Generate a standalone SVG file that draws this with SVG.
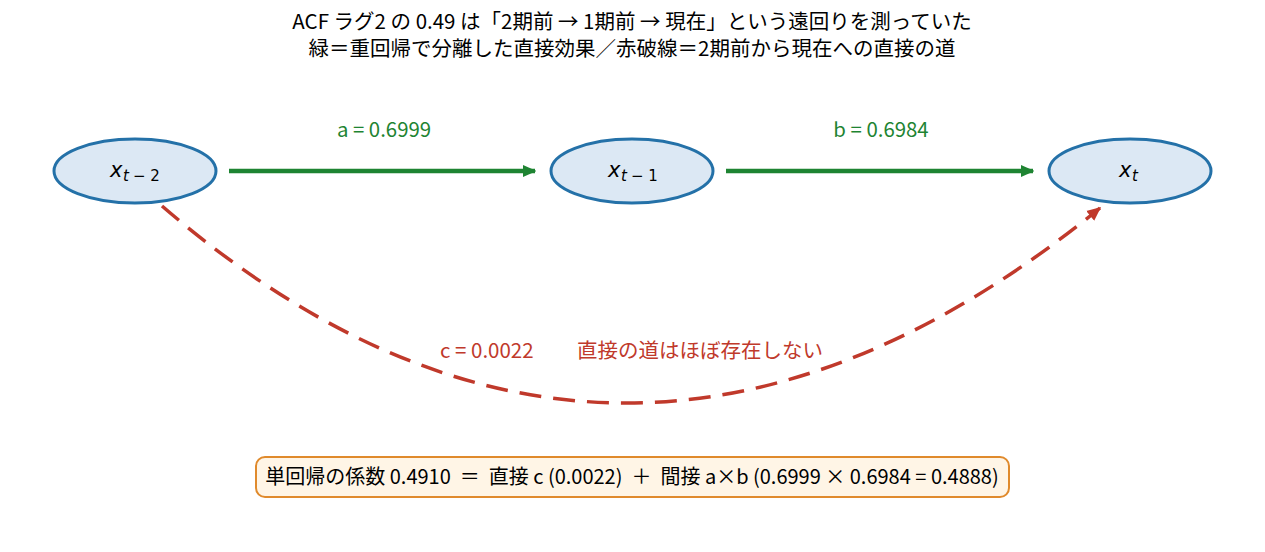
<svg xmlns="http://www.w3.org/2000/svg" width="1265" height="552" viewBox="0 0 1265 552">
<defs>
<style>
.t{font-family:"Noto Sans CJK JP","Noto Sans",sans-serif;}
.node{fill:#dce8f4;stroke:#2471a8;stroke-width:3;}
.m{font-family:"DejaVu Sans",sans-serif;fill:#000;}
.g{stroke:#1e8432;stroke-width:4.5;fill:none;}
.r{stroke:#c0392b;stroke-width:3.5;fill:none;stroke-dasharray:22,12;}
</style>
<marker id="ag" viewBox="0 0 10 10" refX="9" refY="5" markerWidth="3" markerHeight="3" orient="auto" markerUnits="strokeWidth"><path d="M0,0.5 L10,5 L0,9.5 z" fill="#1e8432"/></marker>
<marker id="ar" viewBox="0 0 10 10" refX="9" refY="5" markerWidth="4" markerHeight="4" orient="auto" markerUnits="strokeWidth"><path d="M0,0.5 L10,5 L0,9.5 z" fill="#c0392b"/></marker>
</defs>
<rect width="1265" height="552" fill="#fff"/>
<g id="title" class="t" font-size="20.5" text-anchor="middle" fill="#000">
<text x="632" y="29">ACF ラグ2 の 0.49 は「2期前 → 1期前 → 現在」という遠回りを測っていた</text>
<text x="632" y="56">緑＝重回帰で分離した直接効果／赤破線＝2期前から現在への直接の道</text>
</g>
<g id="connectors">
<line class="g" x1="229" y1="171" x2="535" y2="171" marker-end="url(#ag)"/>
<line class="g" x1="726" y1="171" x2="1033" y2="171" marker-end="url(#ag)"/>
<path class="r" d="M162,206 Q619,599 1100,208" marker-end="url(#ar)"/>
<text class="t" x="384" y="137" font-size="20.4" fill="#1e8432" text-anchor="middle">a = 0.6999</text>
<text class="t" x="881" y="137" font-size="20.4" fill="#1e8432" text-anchor="middle">b = 0.6984</text>
<text class="t" x="440" y="358" font-size="20.5" fill="#c0392b">c = 0.0022</text>
<text class="t" x="577" y="358" font-size="20.5" fill="#c0392b">直接の道はほぼ存在しない</text>
</g>
<g id="n1">
<ellipse class="node" cx="135" cy="171" rx="81" ry="32"/>
<text class="m" x="110" y="177" font-size="21" font-style="italic">x</text>
<text class="m" x="123" y="181" font-size="15" font-style="italic">t</text>
<text class="m" x="133" y="181" font-size="15">− 2</text>
</g>
<g id="n2">
<ellipse class="node" cx="632" cy="171" rx="81" ry="32"/>
<text class="m" x="608" y="177" font-size="21" font-style="italic">x</text>
<text class="m" x="621" y="181" font-size="15" font-style="italic">t</text>
<text class="m" x="631" y="181" font-size="15">− 1</text>
</g>
<g id="n3">
<ellipse class="node" cx="1130" cy="171" rx="81" ry="32"/>
<text class="m" x="1119" y="177" font-size="21" font-style="italic">x</text>
<text class="m" x="1132" y="181" font-size="15" font-style="italic">t</text>
</g>
<g id="summary">
<rect x="256" y="457" width="753" height="40" rx="9" fill="#fff5e6" stroke="#e08a2c" stroke-width="2"/>
<text class="t" x="632" y="484" font-size="20" text-anchor="middle" fill="#000" xml:space="preserve">単回帰の係数 0.4910  ＝  直接 c (0.0022)  ＋  間接 a×b (0.6999 × 0.6984 = 0.4888)</text>
</g>
</svg>
